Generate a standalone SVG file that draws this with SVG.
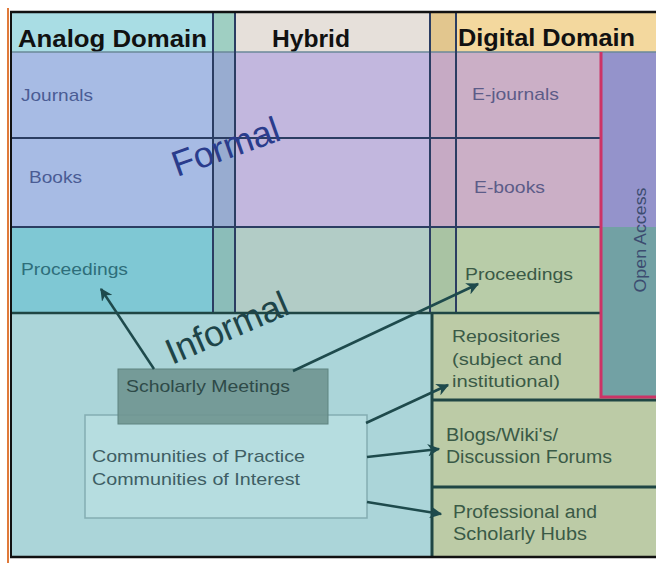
<svg xmlns="http://www.w3.org/2000/svg" width="656" height="563" viewBox="0 0 656 563">
<defs>
<style>
text{font-family:"Liberation Sans",Arial,sans-serif;}
.hd{font-size:24px;font-weight:bold;fill:#111;}
.t{font-size:17px;}
.blue{fill:#4a5c94;}
.teal{fill:#2e6e7a;}
.mauve{fill:#5c5c88;}
.olive{fill:#3a5a46;}
.comm{fill:#3e5e64;}
.ln{stroke:#2b3d62;stroke-width:2;fill:none;}
.lt{stroke:#1f4644;stroke-width:3;fill:none;}
.red{stroke:#cc3366;stroke-width:3;fill:none;}
.arr{stroke:#1e4a4c;stroke-width:2.5;fill:none;marker-end:url(#ah);}
</style>
<marker id="ah" viewBox="0 0 10 10" refX="9" refY="5" markerWidth="5" markerHeight="5" orient="auto" markerUnits="strokeWidth">
<path d="M0,0 L10,5 L0,10 L3,5 z" fill="#1e4a4c"/>
</marker>
</defs>
<rect width="656" height="563" fill="#ffffff"/>

<g id="header-analog"><rect x="12" y="12" width="201" height="40" fill="#a9dde4"/><text class="hd" x="18" y="47" textLength="189" lengthAdjust="spacingAndGlyphs">Analog Domain</text></g>
<g id="header-strip1"><rect x="213" y="12" width="22" height="40" fill="#9fcfc2"/></g>
<g id="header-hybrid"><rect x="235" y="12" width="195" height="40" fill="#e6e0da"/><text class="hd" x="272" y="47" textLength="78" lengthAdjust="spacingAndGlyphs">Hybrid</text></g>
<g id="header-strip2"><rect x="430" y="12" width="26" height="40" fill="#e2c68e"/></g>
<g id="header-digital"><rect x="456" y="12" width="200" height="40" fill="#f3d89e"/><text class="hd" x="458" y="46" textLength="177" lengthAdjust="spacingAndGlyphs">Digital Domain</text></g>

<g id="formal-analog"><rect x="12" y="52" width="201" height="175" fill="#a7bbe4"/></g>
<g id="journals"><text class="t blue" x="21" y="101" textLength="72" lengthAdjust="spacingAndGlyphs">Journals</text></g>
<g id="books"><text class="t blue" x="29" y="183" textLength="53" lengthAdjust="spacingAndGlyphs">Books</text></g>
<g id="formal-strip1"><rect x="213" y="52" width="22" height="175" fill="#98acd0"/></g>
<g id="formal-hybrid"><rect x="235" y="52" width="195" height="175" fill="#c2b7de"/></g>
<g id="formal-strip2"><rect x="430" y="52" width="26" height="175" fill="#c6aac4"/></g>
<g id="e-journals"><rect x="456" y="52" width="145" height="86" fill="#cbafc6"/><text class="t mauve" x="472" y="100" textLength="87" lengthAdjust="spacingAndGlyphs">E-journals</text></g>
<g id="e-books"><rect x="456" y="138" width="145" height="89" fill="#cbafc6"/><text class="t mauve" x="474" y="193" textLength="71" lengthAdjust="spacingAndGlyphs">E-books</text></g>

<g id="proc-analog"><rect x="12" y="227" width="201" height="86" fill="#7fc8d4"/><text class="t teal" x="21" y="275" textLength="107" lengthAdjust="spacingAndGlyphs">Proceedings</text></g>
<g id="proc-strip1"><rect x="213" y="227" width="22" height="86" fill="#8bbdb9"/></g>
<g id="proc-hybrid"><rect x="235" y="227" width="195" height="86" fill="#b2ccc6"/></g>
<g id="proc-strip2"><rect x="430" y="227" width="26" height="86" fill="#a9c3a3"/></g>
<g id="proc-digital"><rect x="456" y="227" width="145" height="86" fill="#b8cca8"/><text class="t olive" x="465" y="280" textLength="108" lengthAdjust="spacingAndGlyphs">Proceedings</text></g>

<g id="open-access"><rect x="601" y="52" width="55" height="175" fill="#9493cb"/><rect x="601" y="227" width="55" height="170" fill="#72a1a4"/><text x="646" y="240" font-size="17" fill="#3c4c70" text-anchor="middle" textLength="105" lengthAdjust="spacingAndGlyphs" transform="rotate(-90 646 240)">Open Access</text></g>

<g id="informal-area"><rect x="12" y="313" width="420" height="244" fill="#abd5d9"/></g>
<g id="repositories"><rect x="432" y="313" width="169" height="87" fill="#bccba6"/><rect x="601" y="397" width="55" height="3" fill="#bccba6"/><text class="t olive" x="452" y="342" textLength="108" lengthAdjust="spacingAndGlyphs">Repositories</text><text class="t olive" x="452" y="365" textLength="110" lengthAdjust="spacingAndGlyphs">(subject  and</text><text class="t olive" x="452" y="387" textLength="108" lengthAdjust="spacingAndGlyphs">institutional)</text></g>
<g id="blogs"><rect x="432" y="400" width="224" height="87" fill="#bccba6"/><text class="t olive" font-size="18" x="446" y="441" textLength="112" lengthAdjust="spacingAndGlyphs" style="font-size:18px">Blogs/Wiki's/</text><text class="t olive" x="446" y="463" textLength="166" lengthAdjust="spacingAndGlyphs" style="font-size:18px">Discussion Forums</text></g>
<g id="hubs"><rect x="432" y="487" width="224" height="70" fill="#bccba6"/><text class="t olive" x="453" y="518" textLength="144" lengthAdjust="spacingAndGlyphs" style="font-size:18px">Professional and</text><text class="t olive" x="453" y="540" textLength="134" lengthAdjust="spacingAndGlyphs" style="font-size:18px">Scholarly  Hubs</text></g>

<g id="grid-lines">
<line x1="12" y1="52" x2="656" y2="52" style="stroke:#6a8898;stroke-width:1.5"/>
<line class="ln" x1="213" y1="12" x2="213" y2="313"/>
<line class="ln" x1="235" y1="12" x2="235" y2="313"/>
<line class="ln" x1="430" y1="12" x2="430" y2="313"/>
<line class="ln" x1="456" y1="12" x2="456" y2="313"/>
<line class="ln" x1="12" y1="138" x2="601" y2="138"/>
<line class="ln" x1="12" y1="227" x2="601" y2="227"/>
<line class="lt" x1="12" y1="313" x2="601" y2="313" style="stroke-width:2.5"/>
<line class="lt" x1="432" y1="313" x2="432" y2="557"/>
<line class="lt" x1="432" y1="400" x2="656" y2="400"/>
<line class="lt" x1="432" y1="487" x2="656" y2="487"/>
<polyline class="red" points="601,52 601,397 656,397"/>
</g>

<g id="frame">
<line x1="8" y1="8" x2="8" y2="563" stroke="#e07a3a" stroke-width="2"/>
<line x1="11" y1="11" x2="11" y2="558" stroke="#111" stroke-width="2"/>
<line x1="10" y1="12" x2="656" y2="12" stroke="#111" stroke-width="2.5"/>
<line x1="10" y1="557" x2="656" y2="557" stroke="#111" stroke-width="2.5"/>
</g>

<g id="formal-label"><text x="177" y="177" font-size="36" fill="#2a3c8c" transform="rotate(-19.5 177 177)">Formal</text></g>
<g id="informal-label"><text x="172" y="365" font-size="36" fill="#1e4448" transform="rotate(-23.4 172 365)">Informal</text></g>

<g id="communities"><rect x="85" y="415" width="282" height="103" fill="#b6dde0" stroke="#84adb2" stroke-width="1.5"/><text class="t comm" x="92" y="462" textLength="213" lengthAdjust="spacingAndGlyphs">Communities of Practice</text><text class="t comm" x="92" y="485" textLength="208" lengthAdjust="spacingAndGlyphs">Communities of Interest</text></g>
<g id="scholarly-meetings"><rect x="118" y="369" width="210" height="55" fill="#6f9590" fill-opacity="0.9" stroke="#5f8480" stroke-width="1"/><text class="t" fill="#2e4a48" x="126" y="392" textLength="164" lengthAdjust="spacingAndGlyphs">Scholarly Meetings</text></g>

<g id="connectors">
<line class="arr" x1="154" y1="369" x2="101" y2="289"/>
<line class="arr" x1="293" y1="371" x2="478" y2="284"/>
<line class="arr" x1="366" y1="423" x2="448" y2="385"/>
<line class="arr" x1="367" y1="457" x2="439" y2="449"/>
<line class="arr" x1="367" y1="502" x2="441" y2="514"/>
</g>
</svg>
